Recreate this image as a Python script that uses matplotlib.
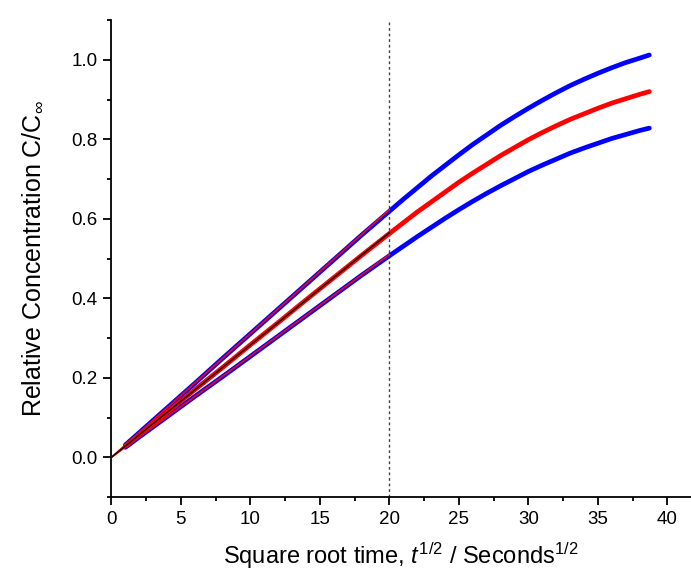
import matplotlib
matplotlib.use("Agg")
import matplotlib.pyplot as plt
from matplotlib.ticker import MultipleLocator

plt.rcParams['font.family'] = ['Liberation Sans', 'DejaVu Sans']
plt.rcParams['mathtext.fontset'] = 'custom'
plt.rcParams['mathtext.rm'] = 'Liberation Sans'
plt.rcParams['mathtext.it'] = 'Liberation Sans:italic'

# square root time values (s^1/2)
root_time = [1, 2, 4, 6, 8, 10, 12, 14, 16, 18, 20, 21, 22, 23, 24, 25, 26, 27, 28, 29,
             30, 31, 32, 33, 34, 35, 36, 37, 38, 38.7]

# relative concentration
conc_mid = [0.028, 0.057, 0.113, 0.170, 0.226, 0.283, 0.339, 0.396, 0.452, 0.508, 0.563,
            0.590, 0.617, 0.642, 0.667, 0.692, 0.715, 0.737, 0.759, 0.779,
            0.799, 0.817, 0.834, 0.850, 0.864, 0.878, 0.891, 0.902, 0.913, 0.920]
conc_upper = [0.031, 0.062, 0.124, 0.186, 0.249, 0.311, 0.373, 0.435, 0.497, 0.559, 0.619,
              0.649, 0.678, 0.707, 0.734, 0.761, 0.787, 0.811, 0.835, 0.857,
              0.878, 0.898, 0.917, 0.935, 0.951, 0.966, 0.980, 0.993, 1.004, 1.012]
conc_lower = [0.025, 0.051, 0.102, 0.153, 0.203, 0.254, 0.305, 0.356, 0.407, 0.458, 0.507,
              0.531, 0.555, 0.578, 0.601, 0.623, 0.644, 0.664, 0.683, 0.701,
              0.719, 0.735, 0.750, 0.765, 0.778, 0.790, 0.802, 0.812, 0.822, 0.828]

# linear fits of the early part (0 to 20)
fit_x = [0, 20]
fit_mid = [0, 0.565]
fit_upper = [0, 0.623]
fit_lower = [0, 0.510]

cutoff = 20

fig = plt.figure(figsize=(6.91, 5.79), dpi=100)
ax = fig.add_axes([0.1613, 0.1416, 0.8387, 0.8238])

for vals, col in [(conc_upper, '#0000ff'), (conc_lower, '#0000ff'), (conc_mid, '#ff0000')]:
    ax.plot(root_time, vals, color=col, lw=3.4, solid_capstyle='round',
            solid_joinstyle='round', zorder=3)

ax.plot(fit_x, fit_upper, color='#ff0000', lw=1.2, zorder=4)
ax.plot(fit_x, fit_lower, color='#ff0000', lw=1.2, zorder=4)
ax.plot(fit_x, fit_mid, color='black', lw=1.0, zorder=5)

ax.axvline(cutoff, color='#444444', lw=1.0, ls=(0, (2, 2)), zorder=2)

ax.set_xlim(0, 41.7)
ax.set_ylim(-0.1, 1.1)
ax.xaxis.set_major_locator(MultipleLocator(5))
ax.xaxis.set_minor_locator(MultipleLocator(2.5))
ax.yaxis.set_major_locator(MultipleLocator(0.2))
ax.yaxis.set_minor_locator(MultipleLocator(0.1))
ax.yaxis.set_major_formatter(plt.FormatStrFormatter('%.1f'))

ax.spines['top'].set_visible(False)
ax.spines['right'].set_visible(False)
for s in ['left', 'bottom']:
    ax.spines[s].set_linewidth(1.3)
ax.tick_params(which='major', direction='out', length=6, width=1.3, labelsize=13.5, pad=4)
ax.tick_params(which='minor', direction='out', length=3, width=1.3)

ax.set_xlabel(r"Square root time, $\mathit{t}^{\mathrm{1/2}}$ / Seconds$^{\mathrm{1/2}}$",
              fontsize=17, labelpad=9)
ax.set_ylabel(r"Relative Concentration C/C$_{\infty}$", fontsize=18, labelpad=19)

plt.savefig("out.png", dpi=100)
